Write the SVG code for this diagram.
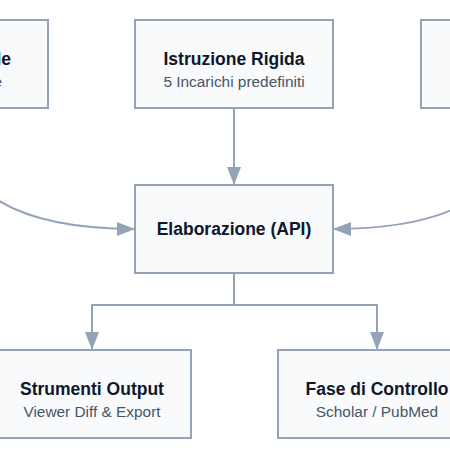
<svg xmlns="http://www.w3.org/2000/svg" width="450" height="450" viewBox="0 0 450 450">
<style>
.box{fill:#f8fafc;stroke:#94a3b8;stroke-width:2}
.t{font-family:"Liberation Sans",Arial,sans-serif;font-weight:bold;font-size:17.5px;fill:#0f172a;text-anchor:middle}
.s{font-family:"Liberation Sans",Arial,sans-serif;font-size:15.4px;fill:#475569;text-anchor:middle}
.e{fill:none;stroke:#94a3b8;stroke-width:2}
</style>
<defs>
<marker id="ah" markerUnits="userSpaceOnUse" markerWidth="18" markerHeight="14" refX="18" refY="7" orient="auto">
<path d="M0,0 L18,7 L0,14 z" fill="#94a3b8"/>
</marker>
</defs>
<rect width="450" height="450" fill="#ffffff"/>
<g id="connectors">
<path class="e" d="M-51,108 C-51,215 60,229 135,229" marker-end="url(#ah)"/>
<path class="e" d="M520,108 C520,215 409,229 333,229" marker-end="url(#ah)"/>
<path class="e" d="M234,108 L234,185" marker-end="url(#ah)"/>
<path class="e" d="M234,273 L234,305 L92,305 L92,350" marker-end="url(#ah)"/>
<path class="e" d="M234,305 L377,305 L377,350" marker-end="url(#ah)"/>
</g>
<g id="node-left">
<rect class="box" x="-150" y="20" width="198" height="88"/>
<text class="t" x="11" y="65" style="text-anchor:end">le</text>
<text class="s" x="2" y="87" style="text-anchor:end">e</text>
</g>
<g id="node-istruzione">
<rect class="box" x="135" y="20" width="198" height="88"/>
<text class="t" x="234" y="65">Istruzione Rigida</text>
<text class="s" x="234" y="87">5 Incarichi predefiniti</text>
</g>
<g id="node-right">
<rect class="box" x="421" y="20" width="198" height="88"/>
</g>
<g id="node-elaborazione">
<rect class="box" x="135" y="185" width="198" height="88"/>
<text class="t" x="234" y="235">Elaborazione (API)</text>
</g>
<g id="node-strumenti">
<rect class="box" x="-7" y="350" width="198" height="88"/>
<text class="t" x="92" y="395">Strumenti Output</text>
<text class="s" x="92" y="417">Viewer Diff &amp; Export</text>
</g>
<g id="node-fase">
<rect class="box" x="278" y="350" width="198" height="88"/>
<text class="t" x="377" y="395">Fase di Controllo</text>
<text class="s" x="377" y="417">Scholar / PubMed</text>
</g>
</svg>
